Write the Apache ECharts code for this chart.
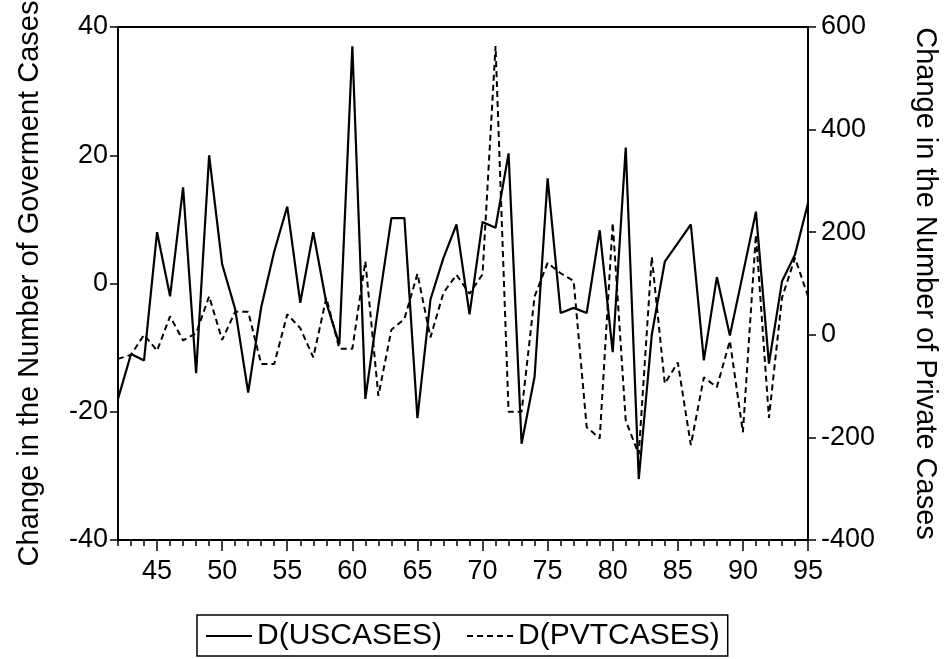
<!DOCTYPE html>
<html>
<head>
<meta charset="utf-8">
<script src="https://cdn.jsdelivr.net/npm/echarts@6/dist/echarts.min.js"></script>
<style>
html,body{margin:0;padding:0;background:#fff;}
#chart{width:946px;height:659px;}
</style>
</head>
<body>
<div id="chart"></div>
<script>
const years = ['42','43','44','45','46','47','48','49','50','51','52','53','54','55','56','57','58','59','60','61','62','63','64','65','66','67','68','69','70','71','72','73','74','75','76','77','78','79','80','81','82','83','84','85','86','87','88','89','90','91','92','93','94','95'];
const usCases = [-18,-11,-12,8,-2,15,-14,20,3,-4,-17,-3.7,5,12,-3,8,-3,-9.5,37,-18,-3.5,10.2,10.2,-21,-2.5,4,9.2,-4.8,9.6,8.7,20.3,-25,-14.5,16.4,-4.6,-3.8,-4.6,8.3,-10.7,21.2,-30.5,-8,3.4,6.3,9.2,-12,1,-8.1,1.5,11.2,-12.5,0.3,4.5,12.5];
const pvtCases = [-47,-39,0,-31,36,-11,3,75,-10,45,45,-57,-57,40,13,-44,72,-27,-27,143,-119,10,31,119,-5,82,117,80,118,563,-150,-150,75,140,120,105,-180,-202,218,-167,-233,152,-95,-54,-215,-83,-102,-12,-190,195,-162,72,150,75];
const leftTicks = {min:-40, max:40, step:20};
const rightTicks = {min:-400, max:600, step:200};
const seriesNames = ['D(USCASES)','D(PVTCASES)'];
const leftTitle = 'Change in the Number of Goverment Cases';
const rightTitle = 'Change in the Number of Private Cases';

const FONT = "'Liberation Sans', Arial, sans-serif";
const chart = echarts.init(document.getElementById('chart'), null, {renderer:'canvas'});
chart.setOption({
  animation:false,
  backgroundColor:'#fff',
  grid:{left:118,right:138,top:27,bottom:119,containLabel:false,outerBoundsMode:'none',
        show:true,borderColor:'#000',borderWidth:2,backgroundColor:'transparent'},
  legend:{
    left:197, top:615, orient:'horizontal',
    data:seriesNames,
    itemWidth:46, itemHeight:14, itemGap:24,
    borderColor:'#000', borderWidth:1.5, padding:[6,8,5,8],
    itemStyle:{opacity:0},
    textStyle:{fontFamily:FONT,fontSize:30,color:'#000'}
  },
  xAxis:[{
    type:'category', data:years, boundaryGap:false, position:'bottom',
    axisLine:{show:true,onZero:false,lineStyle:{color:'#000',width:2}},
    axisTick:{show:true,interval:0,length:6,lineStyle:{color:'#000',width:1.5}},
    axisLabel:{show:true,interval:function(i,v){return (+v)%5===0;},margin:18,
      fontFamily:FONT,fontSize:27,color:'#000'},
    splitLine:{show:false}
  },{
    type:'category', data:years, boundaryGap:false, position:'bottom',
    axisLine:{show:false,onZero:false},
    axisTick:{show:true,interval:function(i,v){return (+v)%5===0;},length:11,lineStyle:{color:'#000',width:1.5}},
    axisLabel:{show:false},
    splitLine:{show:false}
  }],
  yAxis:[{
    type:'value', position:'left', min:leftTicks.min, max:leftTicks.max, interval:leftTicks.step,
    name:leftTitle, nameLocation:'middle', nameGap:74, nameRotate:90,
    nameTextStyle:{fontFamily:FONT,fontSize:29,color:'#000'},
    axisLine:{show:true,onZero:false,lineStyle:{color:'#000',width:2}},
    axisTick:{show:true,length:8,lineStyle:{color:'#000',width:1.5}},
    axisLabel:{margin:10,fontFamily:FONT,fontSize:27,color:'#000'},
    splitLine:{show:false}
  },{
    type:'value', position:'right', min:rightTicks.min, max:rightTicks.max, interval:rightTicks.step,
    name:rightTitle, nameLocation:'middle', nameGap:102, nameRotate:-90,
    nameTextStyle:{fontFamily:FONT,fontSize:29,color:'#000'},
    axisLine:{show:true,onZero:false,lineStyle:{color:'#000',width:2}},
    axisTick:{show:true,length:8,lineStyle:{color:'#000',width:1.5}},
    axisLabel:{margin:13,fontFamily:FONT,fontSize:27,color:'#000'},
    splitLine:{show:false}
  }],
  series:[{
    name:seriesNames[0], type:'line', xAxisIndex:0, yAxisIndex:0, data:usCases,
    symbol:'none', lineStyle:{color:'#000',width:2.2,type:'solid'}, itemStyle:{color:'#000'}
  },{
    name:seriesNames[1], type:'line', xAxisIndex:0, yAxisIndex:1, data:pvtCases,
    symbol:'none', lineStyle:{color:'#000',width:2,type:[6,4]}, itemStyle:{color:'#000'}
  }]
});
</script>
</body>
</html>
